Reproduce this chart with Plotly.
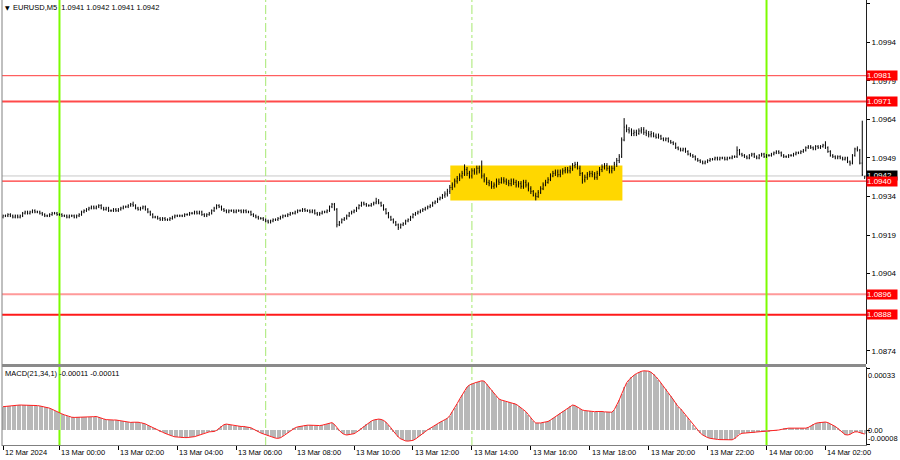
import plotly.graph_objects as go

# ---------------- DATA (EURUSD, M5; one row = 12 bars = 1 hour) ----------------
open_ = [
 1.0926, 1.09265, 1.09265, 1.0927, 1.09265, 1.0926, 1.09265, 1.0926, 1.09265, 1.09275, 1.0928, 1.09275,
 1.0928, 1.09285, 1.0928, 1.0928, 1.09275, 1.0927, 1.09265, 1.09265, 1.0927, 1.09275, 1.09275, 1.0927,
 1.0927, 1.09265, 1.09265, 1.0926, 1.09265, 1.09265, 1.0926, 1.09265, 1.0927, 1.0928, 1.09285, 1.0929,
 1.09295, 1.093, 1.09295, 1.093, 1.09305, 1.09295, 1.0929, 1.09295, 1.09285, 1.09285, 1.0929, 1.09285,
 1.0929, 1.09295, 1.093, 1.093, 1.09305, 1.0931, 1.09305, 1.09295, 1.0929, 1.09295, 1.093, 1.0929,
 1.0928, 1.0927, 1.0926, 1.0926, 1.09255, 1.0925, 1.09255, 1.0925, 1.0925, 1.09255, 1.0926, 1.09265,
 1.09265, 1.09265, 1.09265, 1.0927, 1.0927, 1.09275, 1.09275, 1.0928, 1.09275, 1.0928, 1.0927, 1.09265,
 1.0927, 1.09275, 1.09285, 1.09295, 1.09305, 1.093, 1.0929, 1.09285, 1.0928, 1.09285, 1.09285, 1.0928,
 1.09285, 1.09285, 1.0928, 1.09285, 1.0928, 1.0928, 1.0927, 1.09265, 1.0926, 1.09255, 1.09255, 1.0925,
 1.09245, 1.0924, 1.09245, 1.0925, 1.0925, 1.09255, 1.0926, 1.09265, 1.09265, 1.0927, 1.09275, 1.09275,
 1.0928, 1.09285, 1.09285, 1.0929, 1.09285, 1.09285, 1.0928, 1.09285, 1.09275, 1.0927, 1.09275, 1.0928,
 1.0928, 1.09285, 1.093, 1.0931, 1.0929, 1.0923, 1.0924, 1.0925, 1.09255, 1.09265, 1.09275, 1.0928,
 1.09285, 1.09295, 1.09305, 1.09315, 1.0931, 1.09305, 1.09305, 1.0931, 1.09315, 1.0932, 1.09315, 1.09305,
 1.0929, 1.09275, 1.0926, 1.0925, 1.0924, 1.0923, 1.0922, 1.0923, 1.09235, 1.09245, 1.0925, 1.0926,
 1.0927, 1.09275, 1.0928, 1.09285, 1.0929, 1.09295, 1.093, 1.09305, 1.09315, 1.0932, 1.0933, 1.09335,
 1.09345, 1.0935, 1.0936, 1.09375, 1.09385, 1.094, 1.0941, 1.0942, 1.0943, 1.09445, 1.0943, 1.0942,
 1.0944, 1.09435, 1.0945, 1.0944, 1.0942, 1.09405, 1.09395, 1.0939, 1.0938, 1.09385, 1.094, 1.09395,
 1.09405, 1.094, 1.09395, 1.0939, 1.094, 1.09395, 1.09385, 1.0939, 1.0938, 1.09395, 1.09385, 1.0937,
 1.0936, 1.09345, 1.0934, 1.09355, 1.0937, 1.09385, 1.09395, 1.09405, 1.0942, 1.0943, 1.09435, 1.09425,
 1.09435, 1.0944, 1.09445, 1.0944, 1.0945, 1.0946, 1.09465, 1.0945, 1.0943, 1.09405, 1.09415, 1.09425,
 1.0943, 1.09425, 1.09415, 1.0943, 1.09445, 1.09455, 1.0946, 1.0945, 1.0944, 1.0945, 1.09465, 1.0948,
 1.09495, 1.0956, 1.0961, 1.096, 1.09595, 1.09585, 1.0959, 1.09585, 1.09595, 1.096, 1.0959, 1.09585,
 1.0958, 1.09585, 1.09575, 1.0957, 1.09575, 1.09565, 1.0956, 1.09565, 1.09555, 1.0955, 1.09545, 1.0953,
 1.09525, 1.0952, 1.09525, 1.09515, 1.09505, 1.095, 1.09495, 1.09485, 1.0948, 1.09475, 1.0947, 1.09475,
 1.0948, 1.09485, 1.09485, 1.0949, 1.09485, 1.0949, 1.0949, 1.09485, 1.0949, 1.0949, 1.09495, 1.09495,
 1.0952, 1.09505, 1.095, 1.09495, 1.0949, 1.095, 1.09505, 1.09495, 1.0949, 1.095, 1.09505, 1.09495,
 1.095, 1.095, 1.09505, 1.0951, 1.09515, 1.0951, 1.095, 1.09495, 1.09495, 1.095, 1.095, 1.09505,
 1.0951, 1.0951, 1.09515, 1.0952, 1.0953, 1.09535, 1.0953, 1.09525, 1.09535, 1.0953, 1.09535, 1.0954,
 1.0953, 1.09515, 1.095, 1.09495, 1.0949, 1.09495, 1.0949, 1.09485, 1.0949, 1.09475, 1.0947, 1.095,
 1.09525, 1.0952, 1.0947, 1.0941,
]
high = [
 1.0927, 1.0927, 1.09275, 1.09275, 1.0927, 1.0927, 1.0927, 1.0927, 1.0928, 1.09285, 1.09285, 1.09285,
 1.0929, 1.0929, 1.09285, 1.09285, 1.0928, 1.09275, 1.0927, 1.09275, 1.0928, 1.0928, 1.0928, 1.09275,
 1.09275, 1.0927, 1.0927, 1.0927, 1.0927, 1.0927, 1.0927, 1.09275, 1.09285, 1.0929, 1.09295, 1.093,
 1.09305, 1.09305, 1.09305, 1.0931, 1.0931, 1.093, 1.093, 1.093, 1.0929, 1.09295, 1.09295, 1.09295,
 1.093, 1.09305, 1.09305, 1.0931, 1.09315, 1.0932, 1.0931, 1.093, 1.093, 1.09305, 1.09305, 1.09295,
 1.09285, 1.09275, 1.09265, 1.09265, 1.0926, 1.0926, 1.0926, 1.09255, 1.0926, 1.09265, 1.0927, 1.0927,
 1.0927, 1.0927, 1.09275, 1.09275, 1.0928, 1.0928, 1.09285, 1.09285, 1.09285, 1.09285, 1.09275, 1.09275,
 1.0928, 1.0929, 1.093, 1.0931, 1.0931, 1.09305, 1.09295, 1.0929, 1.0929, 1.0929, 1.0929, 1.0929,
 1.0929, 1.0929, 1.0929, 1.0929, 1.09285, 1.09285, 1.09275, 1.0927, 1.09265, 1.0926, 1.0926, 1.09255,
 1.0925, 1.0925, 1.09255, 1.09255, 1.0926, 1.09265, 1.0927, 1.0927, 1.09275, 1.0928, 1.0928, 1.09285,
 1.0929, 1.0929, 1.09295, 1.09295, 1.0929, 1.0929, 1.0929, 1.0929, 1.0928, 1.0928, 1.09285, 1.09285,
 1.0929, 1.09305, 1.09315, 1.09315, 1.09295, 1.09245, 1.09255, 1.0926, 1.0927, 1.0928, 1.09285, 1.0929,
 1.093, 1.0931, 1.0932, 1.0932, 1.09315, 1.0931, 1.09315, 1.0932, 1.09335, 1.0933, 1.0932, 1.0931,
 1.09295, 1.0928, 1.09265, 1.09255, 1.09245, 1.09235, 1.09235, 1.0924, 1.0925, 1.09255, 1.09265, 1.09275,
 1.0928, 1.09285, 1.0929, 1.09295, 1.093, 1.09305, 1.0931, 1.0932, 1.09325, 1.09335, 1.0934, 1.0935,
 1.0936, 1.0937, 1.09385, 1.09395, 1.0941, 1.0942, 1.0943, 1.0944, 1.09465, 1.09455, 1.0944, 1.0945,
 1.0945, 1.0946, 1.0946, 1.0948, 1.0943, 1.09415, 1.09405, 1.094, 1.09395, 1.0941, 1.0941, 1.09415,
 1.09415, 1.0941, 1.09405, 1.0941, 1.0941, 1.09405, 1.094, 1.094, 1.09405, 1.09405, 1.09395, 1.0938,
 1.09365, 1.09355, 1.09365, 1.0938, 1.09395, 1.09405, 1.09415, 1.0943, 1.0944, 1.09445, 1.09445, 1.09445,
 1.0945, 1.09455, 1.09455, 1.0946, 1.0947, 1.09475, 1.09475, 1.0946, 1.09435, 1.09425, 1.09435, 1.0944,
 1.0944, 1.09435, 1.0944, 1.09455, 1.09465, 1.0947, 1.0947, 1.0946, 1.0946, 1.09475, 1.0949, 1.09505,
 1.0957, 1.09645, 1.0962, 1.0961, 1.09605, 1.096, 1.096, 1.09605, 1.0961, 1.0961, 1.096, 1.09595,
 1.09595, 1.0959, 1.09585, 1.09585, 1.0958, 1.0957, 1.0957, 1.0957, 1.0956, 1.09555, 1.0955, 1.09535,
 1.0953, 1.0953, 1.0953, 1.0952, 1.0951, 1.09505, 1.095, 1.0949, 1.09485, 1.0948, 1.0948, 1.09485,
 1.0949, 1.0949, 1.09495, 1.09495, 1.09495, 1.09495, 1.09495, 1.09495, 1.09495, 1.095, 1.095, 1.09535,
 1.09525, 1.0951, 1.09505, 1.095, 1.09505, 1.0951, 1.0951, 1.095, 1.09505, 1.0951, 1.0951, 1.09505,
 1.09505, 1.0951, 1.09515, 1.0952, 1.0952, 1.09515, 1.09505, 1.095, 1.09505, 1.09505, 1.0951, 1.09515,
 1.09515, 1.0952, 1.09525, 1.09535, 1.0954, 1.0954, 1.09535, 1.0954, 1.0954, 1.0954, 1.09545, 1.09555,
 1.09535, 1.0952, 1.09505, 1.095, 1.095, 1.095, 1.09495, 1.09495, 1.09495, 1.0948, 1.09505, 1.0953,
 1.09535, 1.09525, 1.09635, 1.0942,
]
low = [
 1.09255, 1.0926, 1.0926, 1.0926, 1.09255, 1.09255, 1.09255, 1.09255, 1.0926, 1.0927, 1.0927, 1.0927,
 1.09275, 1.09275, 1.09275, 1.0927, 1.09265, 1.0926, 1.0926, 1.0926, 1.09265, 1.0927, 1.09265, 1.09265,
 1.0926, 1.0926, 1.09255, 1.09255, 1.0926, 1.09255, 1.09255, 1.0926, 1.09265, 1.09275, 1.0928, 1.09285,
 1.0929, 1.0929, 1.0929, 1.09295, 1.0929, 1.09285, 1.09285, 1.0928, 1.0928, 1.0928, 1.0928, 1.0928,
 1.09285, 1.0929, 1.09295, 1.09295, 1.093, 1.093, 1.0929, 1.09285, 1.09285, 1.0929, 1.09285, 1.09275,
 1.09265, 1.09255, 1.09255, 1.0925, 1.09245, 1.09245, 1.09245, 1.09245, 1.09245, 1.0925, 1.09255, 1.0926,
 1.0926, 1.0926, 1.0926, 1.09265, 1.09265, 1.0927, 1.0927, 1.0927, 1.0927, 1.09265, 1.0926, 1.0926,
 1.09265, 1.0927, 1.0928, 1.0929, 1.09295, 1.09285, 1.0928, 1.09275, 1.09275, 1.0928, 1.09275, 1.09275,
 1.0928, 1.09275, 1.09275, 1.09275, 1.09275, 1.09265, 1.0926, 1.09255, 1.0925, 1.0925, 1.09245, 1.0924,
 1.09235, 1.09235, 1.0924, 1.09245, 1.09245, 1.0925, 1.09255, 1.0926, 1.0926, 1.09265, 1.0927, 1.0927,
 1.09275, 1.0928, 1.0928, 1.0928, 1.0928, 1.09275, 1.09275, 1.0927, 1.09265, 1.09265, 1.0927, 1.09275,
 1.09275, 1.0928, 1.09295, 1.09285, 1.0922, 1.09225, 1.09235, 1.09245, 1.0925, 1.0926, 1.0927, 1.09275,
 1.0928, 1.0929, 1.093, 1.09305, 1.093, 1.093, 1.093, 1.09305, 1.0931, 1.0931, 1.093, 1.09285,
 1.0927, 1.09255, 1.09245, 1.09235, 1.09225, 1.0921, 1.09215, 1.09225, 1.0923, 1.0924, 1.09245, 1.09255,
 1.09265, 1.0927, 1.09275, 1.0928, 1.09285, 1.0929, 1.09295, 1.093, 1.0931, 1.09315, 1.09325, 1.0933,
 1.09335, 1.0934, 1.0935, 1.09365, 1.09375, 1.0939, 1.094, 1.0941, 1.0942, 1.0942, 1.0941, 1.0941,
 1.09425, 1.09425, 1.0943, 1.0941, 1.09395, 1.09385, 1.0938, 1.0937, 1.0937, 1.09375, 1.09385, 1.0939,
 1.0939, 1.09385, 1.0938, 1.0938, 1.09385, 1.09375, 1.09375, 1.0937, 1.0937, 1.09375, 1.0936, 1.0935,
 1.0934, 1.09325, 1.09335, 1.0935, 1.09365, 1.0938, 1.0939, 1.094, 1.09415, 1.0942, 1.09415, 1.09415,
 1.09425, 1.0943, 1.0943, 1.0943, 1.0944, 1.0945, 1.09445, 1.0942, 1.0939, 1.09395, 1.09405, 1.09415,
 1.09415, 1.09405, 1.09405, 1.0942, 1.09435, 1.09445, 1.0944, 1.0943, 1.0943, 1.0944, 1.09455, 1.0947,
 1.0949, 1.09555, 1.0959, 1.09585, 1.09575, 1.09575, 1.09575, 1.0958, 1.09585, 1.0958, 1.09575, 1.0957,
 1.0957, 1.0957, 1.09565, 1.09565, 1.0956, 1.09555, 1.09555, 1.0955, 1.09545, 1.0954, 1.09525, 1.0952,
 1.09515, 1.09515, 1.0951, 1.095, 1.09495, 1.0949, 1.0948, 1.09475, 1.0947, 1.09465, 1.09465, 1.0947,
 1.09475, 1.0948, 1.0948, 1.0948, 1.0948, 1.09485, 1.0948, 1.0948, 1.09485, 1.09485, 1.0949, 1.0949,
 1.095, 1.09495, 1.0949, 1.09485, 1.09485, 1.09495, 1.0949, 1.09485, 1.09485, 1.09495, 1.0949, 1.0949,
 1.09495, 1.09495, 1.095, 1.09505, 1.09505, 1.09495, 1.0949, 1.0949, 1.0949, 1.09495, 1.09495, 1.095,
 1.09505, 1.09505, 1.0951, 1.09515, 1.09525, 1.09525, 1.0952, 1.0952, 1.09525, 1.09525, 1.0953, 1.09525,
 1.0951, 1.09495, 1.0949, 1.09485, 1.09485, 1.09485, 1.0948, 1.0948, 1.0947, 1.0946, 1.09465, 1.09495,
 1.09515, 1.09465, 1.0942, 1.0941,
]
close = [
 1.09265, 1.09265, 1.0927, 1.09265, 1.0926, 1.09265, 1.0926, 1.09265, 1.09275, 1.0928, 1.09275, 1.0928,
 1.09285, 1.0928, 1.0928, 1.09275, 1.0927, 1.09265, 1.09265, 1.0927, 1.09275, 1.09275, 1.0927, 1.0927,
 1.09265, 1.09265, 1.0926, 1.09265, 1.09265, 1.0926, 1.09265, 1.0927, 1.0928, 1.09285, 1.0929, 1.09295,
 1.093, 1.09295, 1.093, 1.09305, 1.09295, 1.0929, 1.09295, 1.09285, 1.09285, 1.0929, 1.09285, 1.0929,
 1.09295, 1.093, 1.093, 1.09305, 1.0931, 1.09305, 1.09295, 1.0929, 1.09295, 1.093, 1.0929, 1.0928,
 1.0927, 1.0926, 1.0926, 1.09255, 1.0925, 1.09255, 1.0925, 1.0925, 1.09255, 1.0926, 1.09265, 1.09265,
 1.09265, 1.09265, 1.0927, 1.0927, 1.09275, 1.09275, 1.0928, 1.09275, 1.0928, 1.0927, 1.09265, 1.0927,
 1.09275, 1.09285, 1.09295, 1.09305, 1.093, 1.0929, 1.09285, 1.0928, 1.09285, 1.09285, 1.0928, 1.09285,
 1.09285, 1.0928, 1.09285, 1.0928, 1.0928, 1.0927, 1.09265, 1.0926, 1.09255, 1.09255, 1.0925, 1.09245,
 1.0924, 1.09245, 1.0925, 1.0925, 1.09255, 1.0926, 1.09265, 1.09265, 1.0927, 1.09275, 1.09275, 1.0928,
 1.09285, 1.09285, 1.0929, 1.09285, 1.09285, 1.0928, 1.09285, 1.09275, 1.0927, 1.09275, 1.0928, 1.0928,
 1.09285, 1.093, 1.0931, 1.0929, 1.0923, 1.0924, 1.0925, 1.09255, 1.09265, 1.09275, 1.0928, 1.09285,
 1.09295, 1.09305, 1.09315, 1.0931, 1.09305, 1.09305, 1.0931, 1.09315, 1.0932, 1.09315, 1.09305, 1.0929,
 1.09275, 1.0926, 1.0925, 1.0924, 1.0923, 1.0922, 1.0923, 1.09235, 1.09245, 1.0925, 1.0926, 1.0927,
 1.09275, 1.0928, 1.09285, 1.0929, 1.09295, 1.093, 1.09305, 1.09315, 1.0932, 1.0933, 1.09335, 1.09345,
 1.0935, 1.0936, 1.09375, 1.09385, 1.094, 1.0941, 1.0942, 1.0943, 1.09445, 1.0943, 1.0942, 1.0944,
 1.09435, 1.0945, 1.0944, 1.0942, 1.09405, 1.09395, 1.0939, 1.0938, 1.09385, 1.094, 1.09395, 1.09405,
 1.094, 1.09395, 1.0939, 1.094, 1.09395, 1.09385, 1.0939, 1.0938, 1.09395, 1.09385, 1.0937, 1.0936,
 1.09345, 1.0934, 1.09355, 1.0937, 1.09385, 1.09395, 1.09405, 1.0942, 1.0943, 1.09435, 1.09425, 1.09435,
 1.0944, 1.09445, 1.0944, 1.0945, 1.0946, 1.09465, 1.0945, 1.0943, 1.09405, 1.09415, 1.09425, 1.0943,
 1.09425, 1.09415, 1.0943, 1.09445, 1.09455, 1.0946, 1.0945, 1.0944, 1.0945, 1.09465, 1.0948, 1.09495,
 1.0956, 1.0961, 1.096, 1.09595, 1.09585, 1.0959, 1.09585, 1.09595, 1.096, 1.0959, 1.09585, 1.0958,
 1.09585, 1.09575, 1.0957, 1.09575, 1.09565, 1.0956, 1.09565, 1.09555, 1.0955, 1.09545, 1.0953, 1.09525,
 1.0952, 1.09525, 1.09515, 1.09505, 1.095, 1.09495, 1.09485, 1.0948, 1.09475, 1.0947, 1.09475, 1.0948,
 1.09485, 1.09485, 1.0949, 1.09485, 1.0949, 1.0949, 1.09485, 1.0949, 1.0949, 1.09495, 1.09495, 1.0952,
 1.09505, 1.095, 1.09495, 1.0949, 1.095, 1.09505, 1.09495, 1.0949, 1.095, 1.09505, 1.09495, 1.095,
 1.095, 1.09505, 1.0951, 1.09515, 1.0951, 1.095, 1.09495, 1.09495, 1.095, 1.095, 1.09505, 1.0951,
 1.0951, 1.09515, 1.0952, 1.0953, 1.09535, 1.0953, 1.09525, 1.09535, 1.0953, 1.09535, 1.0954, 1.0953,
 1.09515, 1.095, 1.09495, 1.0949, 1.09495, 1.0949, 1.09485, 1.0949, 1.09475, 1.0947, 1.095, 1.09525,
 1.0952, 1.0947, 1.09425, 1.0942,
]

# MACD(21,34,1) main line, one value per bar
macd_main = [
 12.6e-5, 12.8e-5, 13.0e-5, 13.1e-5, 13.2e-5, 13.3e-5, 13.4e-5, 13.5e-5, 13.5e-5, 13.6e-5, 13.6e-5, 13.5e-5,
 13.5e-5, 13.4e-5, 13.2e-5, 13.0e-5, 12.8e-5, 12.5e-5, 12.2e-5, 11.8e-5, 11.2e-5, 10.5e-5, 9.8e-5, 9.1e-5,
 8.7e-5, 8.2e-5, 7.7e-5, 7.2e-5, 6.9e-5, 6.8e-5, 6.8e-5, 6.9e-5, 7.0e-5, 7.0e-5, 6.9e-5, 7.0e-5,
 7.1e-5, 7.2e-5, 7.3e-5, 7.0e-5, 6.5e-5, 6.0e-5, 5.6e-5, 5.4e-5, 5.3e-5, 5.4e-5, 5.4e-5, 5.2e-5,
 4.9e-5, 4.6e-5, 4.3e-5, 4.2e-5, 4.1e-5, 4.2e-5, 4.3e-5, 4.2e-5, 4.0e-5, 3.8e-5, 3.3e-5, 2.6e-5,
 1.9e-5, 1.2e-5, 0.6e-5, 0.0, -0.6e-5, -1.2e-5, -1.8e-5, -2.4e-5, -2.9e-5, -3.3e-5, -3.7e-5, -3.9e-5,
 -4.0e-5, -4.1e-5, -4.1e-5, -4.1e-5, -4.0e-5, -3.9e-5, -3.6e-5, -3.2e-5, -2.7e-5, -2.1e-5, -1.6e-5, -1.2e-5,
 -1.0e-5, -0.9e-5, -0.8e-5, -0.2e-5, 0.8e-5, 2.0e-5, 2.9e-5, 3.2e-5, 3.0e-5, 2.6e-5, 2.2e-5, 2.0e-5,
 2.0e-5, 1.9e-5, 1.9e-5, 1.8e-5, 1.6e-5, 1.2e-5, 0.5e-5, -0.3e-5, -1.0e-5, -1.6e-5, -2.1e-5, -2.6e-5,
 -3.0e-5, -3.5e-5, -4.0e-5, -4.4e-5, -4.5e-5, -4.2e-5, -3.4e-5, -2.4e-5, -1.4e-5, -0.4e-5, 0.6e-5, 1.2e-5,
 1.7e-5, 2.0e-5, 2.3e-5, 2.5e-5, 2.6e-5, 2.6e-5, 2.5e-5, 2.4e-5, 2.3e-5, 2.4e-5, 2.6e-5, 2.9e-5,
 3.4e-5, 3.9e-5, 4.0e-5, 3.0e-5, 1.2e-5, -0.2e-5, -1.6e-5, -2.4e-5, -2.7e-5, -2.6e-5, -2.4e-5, -2.0e-5,
 -1.2e-5, -0.2e-5, 1.0e-5, 2.1e-5, 3.1e-5, 4.0e-5, 4.8e-5, 5.4e-5, 5.8e-5, 5.9e-5, 5.7e-5, 5.2e-5,
 4.2e-5, 2.8e-5, 1.2e-5, -0.6e-5, -2.4e-5, -3.8e-5, -4.8e-5, -5.5e-5, -5.9e-5, -6.0e-5, -6.0e-5, -5.6e-5,
 -4.9e-5, -4.0e-5, -3.0e-5, -2.0e-5, -0.9e-5, 0.1e-5, 1.0e-5, 1.8e-5, 2.7e-5, 3.5e-5, 4.2e-5, 4.9e-5,
 5.6e-5, 6.3e-5, 7.8e-5, 9.8e-5, 12.0e-5, 14.3e-5, 16.7e-5, 19.0e-5, 21.3e-5, 23.2e-5, 24.3e-5, 25.0e-5,
 25.4e-5, 25.8e-5, 26.2e-5, 26.6e-5, 26.4e-5, 25.0e-5, 23.2e-5, 21.5e-5, 19.8e-5, 18.2e-5, 16.8e-5, 16.2e-5,
 15.8e-5, 15.4e-5, 15.0e-5, 14.7e-5, 14.4e-5, 13.9e-5, 13.0e-5, 12.0e-5, 11.0e-5, 9.9e-5, 8.3e-5, 6.5e-5,
 5.0e-5, 3.8e-5, 3.6e-5, 3.8e-5, 4.1e-5, 4.4e-5, 4.6e-5, 5.4e-5, 6.3e-5, 7.2e-5, 8.1e-5, 9.0e-5,
 10.0e-5, 11.0e-5, 12.0e-5, 12.8e-5, 13.5e-5, 13.2e-5, 12.3e-5, 11.4e-5, 10.8e-5, 10.5e-5, 10.3e-5, 10.0e-5,
 9.8e-5, 9.9e-5, 10.0e-5, 10.1e-5, 10.0e-5, 9.8e-5, 9.6e-5, 9.5e-5, 9.6e-5, 11.0e-5, 13.5e-5, 16.2e-5,
 19.5e-5, 23.0e-5, 25.5e-5, 27.2e-5, 28.5e-5, 29.6e-5, 30.5e-5, 31.2e-5, 31.7e-5, 32.0e-5, 32.0e-5, 31.8e-5,
 31.2e-5, 30.2e-5, 28.8e-5, 27.2e-5, 25.5e-5, 23.7e-5, 21.9e-5, 20.2e-5, 18.4e-5, 16.5e-5, 14.5e-5, 12.6e-5,
 11.5e-5, 9.8e-5, 8.0e-5, 6.3e-5, 4.6e-5, 2.9e-5, 1.2e-5, -0.3e-5, -1.6e-5, -2.7e-5, -3.5e-5, -4.1e-5,
 -4.5e-5, -4.8e-5, -5.0e-5, -5.1e-5, -5.2e-5, -5.3e-5, -5.3e-5, -5.4e-5, -5.4e-5, -5.3e-5, -4.6e-5, -3.4e-5,
 -2.4e-5, -1.8e-5, -1.7e-5, -1.6e-5, -1.6e-5, -1.5e-5, -1.4e-5, -1.3e-5, -1.2e-5, -1.0e-5, -0.8e-5, -0.7e-5,
 -0.6e-5, -0.5e-5, -0.3e-5, -0.1e-5, 0.0, 0.3e-5, 0.6e-5, 0.9e-5, 1.0e-5, 1.0e-5, 1.0e-5, 0.9e-5,
 0.9e-5, 0.9e-5, 1.0e-5, 1.0e-5, 1.4e-5, 2.2e-5, 3.0e-5, 3.6e-5, 3.9e-5, 4.1e-5, 4.3e-5, 4.3e-5,
 4.0e-5, 3.4e-5, 2.7e-5, 1.9e-5, 0.9e-5, -0.3e-5, -1.5e-5, -2.5e-5, -2.7e-5, -2.4e-5, -1.6e-5, -1.0e-5,
 -1.0e-5, -1.5e-5, -2.0e-5, -2.2e-5,
]
# signal = SMA(main, 1) -> identical to the main line
macd_signal = list(macd_main)

bar_index = list(range(len(close)))

price_ticks = [1.1009, 1.0994, 1.0979, 1.0964, 1.0949, 1.0934, 1.0919, 1.0904, 1.0889, 1.0874]
level_prices = [1.0981, 1.0971, 1.0940, 1.0896, 1.0888]
bid_price = 1.0942
time_tick_bars = [0, 23, 47, 71, 95, 119, 143, 167, 191, 215, 239, 263, 287, 311, 335]
time_tick_text = ["12 Mar 2024", "13 Mar 00:00", "13 Mar 02:00", "13 Mar 04:00", "13 Mar 06:00",
                  "13 Mar 08:00", "13 Mar 10:00", "13 Mar 12:00", "13 Mar 14:00", "13 Mar 16:00",
                  "13 Mar 18:00", "13 Mar 20:00", "13 Mar 22:00", "14 Mar 00:00", "14 Mar 02:00"]
day_start_bars = [23, 311]
session_bars = [107, 191]
zone_bars = [182.2, 252.3]
zone_prices = [1.09325, 1.09461]
macd_axis_values = [0.00033, 0.0, -0.00008]
macd_axis_text = ["0.00033", "0.00", "-0.00008"]
header_text = "EURUSD,M5  1.0941 1.0942 1.0941 1.0942"
macd_header_text = "MACD(21,34,1) -0.00011 -0.00011"

# ---------------- LAYOUT / STYLE ----------------
W, H = 900, 460
ML, MR, MT, MB = 2, 34, 0, 14
PW, PH = W - ML - MR, H - MT - MB
FONT = "Liberation Sans"


def fy(py):
    return 1 - (py - MT) / PH


def fx(px):
    return (px - ML) / PW


X_RANGE = [-0.407, 351.52]
Y_RANGE = [1.086886, 1.101044]
MACD_RANGE = [-0.0000811, 0.0003405]
MAIN_DOM = [fy(364), 1]
MACD_DOM = [fy(445), fy(367)]

level_styles = [("#ff3b3b", 1), ("#ff4a4a", 2), ("#ff0000", 1), ("#ff9a9a", 2), ("#ff1a1a", 2)]

fig = go.Figure()
fig.add_trace(go.Ohlc(
    x=bar_index, open=open_, high=high, low=low, close=close,
    increasing=dict(line=dict(color="black", width=1)),
    decreasing=dict(line=dict(color="black", width=1)),
    tickwidth=0.25, hoverinfo="skip", xaxis="x", yaxis="y"))
fig.add_trace(go.Bar(x=bar_index, y=macd_main, width=0.45,
                     marker=dict(color="#b8b8b8", line=dict(width=0)),
                     hoverinfo="skip", xaxis="x2", yaxis="y2"))
fig.add_trace(go.Scatter(x=bar_index, y=macd_signal, mode="lines",
                         line=dict(color="#ff2020", width=1),
                         hoverinfo="skip", xaxis="x2", yaxis="y2"))

shapes = []
shapes.append(dict(type="rect", xref="x", yref="y", x0=zone_bars[0], x1=zone_bars[1],
                   y0=zone_prices[0], y1=zone_prices[1], fillcolor="#FFD700",
                   line=dict(width=0), layer="below"))
shapes.append(dict(type="line", xref="paper", yref="y", x0=0, x1=1, y0=bid_price, y1=bid_price,
                   line=dict(color="#c8c8c8", width=1), layer="below"))
for lv, (col, wd) in zip(level_prices, level_styles):
    shapes.append(dict(type="line", xref="paper", yref="y", x0=0, x1=1, y0=lv, y1=lv,
                       line=dict(color=col, width=wd), layer="below"))
for b in day_start_bars:
    shapes.append(dict(type="line", xref="x", yref="paper", x0=b, x1=b, y0=0, y1=1,
                       line=dict(color="#7CFC00", width=2), layer="below"))
for b in session_bars:
    shapes.append(dict(type="line", xref="x", yref="paper", x0=b, x1=b, y0=0, y1=1,
                       line=dict(color="#a6e870", width=1, dash="dashdot"), layer="below"))
shapes.append(dict(type="line", xref="paper", yref="paper", x0=0, x1=0, y0=0, y1=1,
                   line=dict(color="#808080", width=1)))
shapes.append(dict(type="rect", xref="paper", yref="paper", x0=0, x1=1, y0=fy(367), y1=fy(364),
                   fillcolor="#8a8a8a", line=dict(width=0)))

annotations = []
# bid box first so the red level boxes are drawn on top of it (as in the terminal)
annotations.append(dict(xref="paper", yref="y", x=1, y=bid_price, xanchor="left", yanchor="middle",
                        text=f"{bid_price:.4f}", showarrow=False, bgcolor="#000000",
                        font=dict(color="white", size=8, family=FONT),
                        width=30, height=9, align="left", borderpad=0))
for lv in level_prices:
    annotations.append(dict(xref="paper", yref="y", x=1, y=lv, xanchor="left", yanchor="middle",
                            text=f"{lv:.4f}", showarrow=False, bgcolor="#ff0000",
                            font=dict(color="white", size=8, family=FONT),
                            width=30, height=9, align="left", borderpad=0))
for v, t, ya in zip(macd_axis_values, macd_axis_text, ["top", "middle", "bottom"]):
    annotations.append(dict(xref="paper", yref="y2", x=fx(866), y=v, xanchor="left", yanchor=ya,
                            text=t, showarrow=False, font=dict(color="black", size=7.5, family=FONT)))
for b, t in zip(time_tick_bars, time_tick_text):
    annotations.append(dict(xref="x2", yref="paper", x=b, y=fy(452), xanchor="left", yanchor="middle",
                            text=t, showarrow=False, font=dict(color="black", size=7.5, family=FONT)))
annotations.append(dict(xref="paper", yref="paper", x=fx(3), y=fy(7), xanchor="left", yanchor="middle",
                        text="▼", showarrow=False, font=dict(color="black", size=6, family="DejaVu Sans")))
annotations.append(dict(xref="paper", yref="paper", x=fx(11), y=fy(7), xanchor="left", yanchor="middle",
                        text=header_text, showarrow=False, font=dict(color="black", size=7.5, family=FONT)))
annotations.append(dict(xref="paper", yref="paper", x=fx(3), y=fy(373), xanchor="left", yanchor="middle",
                        text=macd_header_text, showarrow=False, font=dict(color="black", size=7.5, family=FONT)))

fig.update_layout(
    width=W, height=H, margin=dict(l=ML, r=MR, t=MT, b=MB),
    paper_bgcolor="white", plot_bgcolor="white", showlegend=False,
    font=dict(family=FONT, size=8, color="black"),
    bargap=0,
    xaxis=dict(domain=[0, 1], range=X_RANGE, anchor="y", showticklabels=False, showgrid=False,
               zeroline=False, showline=False, ticks="", rangeslider=dict(visible=False)),
    yaxis=dict(domain=MAIN_DOM, range=Y_RANGE, side="right", anchor="x",
               tickvals=price_ticks, ticktext=[f"{v:.4f}" for v in price_ticks],
               ticks="outside", ticklen=3, tickcolor="black",
               tickfont=dict(size=8, family=FONT, color="black"),
               showgrid=False, zeroline=False, showline=True, linecolor="#202020", linewidth=1),
    xaxis2=dict(domain=[0, 1], range=X_RANGE, anchor="y2", tickvals=time_tick_bars,
                ticks="outside", ticklen=4, tickcolor="black", showticklabels=False,
                showline=True, linecolor="#808080", showgrid=False, zeroline=False),
    yaxis2=dict(domain=MACD_DOM, range=MACD_RANGE, side="right", anchor="x2",
                tickvals=macd_axis_values, ticks="outside", ticklen=3, tickcolor="black",
                showticklabels=False, showline=True, linecolor="#202020", linewidth=1,
                showgrid=False, zeroline=False),
    shapes=shapes, annotations=annotations,
)

fig.write_html("out.html", config={"displayModeBar": False},
               post_script="document.body.style.margin='0';document.body.style.padding='0';")
